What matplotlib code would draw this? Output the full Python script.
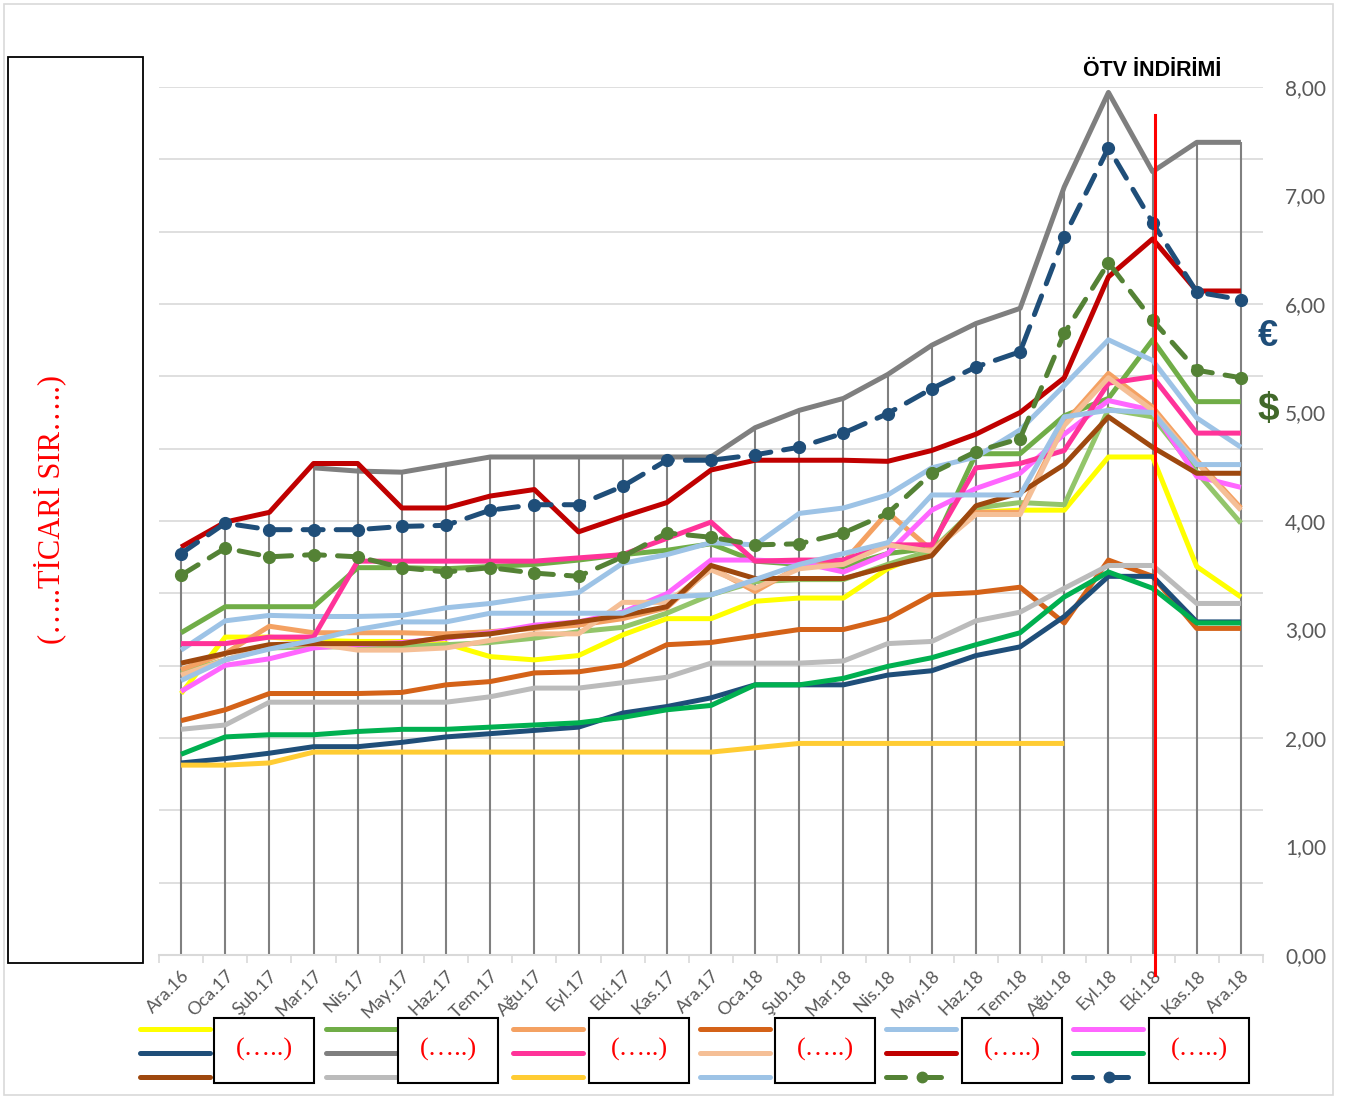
import numpy as np
import matplotlib
matplotlib.use("Agg")
import matplotlib.pyplot as plt
from matplotlib.lines import Line2D
from matplotlib.patches import Rectangle

plt.rcParams['font.family'] = ['Lato', 'DejaVu Sans']

nan = np.nan
months = ["Ara.16", "Oca.17", "Şub.17", "Mar.17", "Nis.17", "May.17", "Haz.17",
          "Tem.17", "Ağu.17", "Eyl.17", "Eki.17", "Kas.17", "Ara.17", "Oca.18",
          "Şub.18", "Mar.18", "Nis.18", "May.18", "Haz.18", "Tem.18", "Ağu.18",
          "Eyl.18", "Eki.18", "Kas.18", "Ara.18"]

yellow = [2.41, 2.93, 2.93, 2.90, 2.89, 2.89, 2.87, 2.75, 2.72, 2.76, 2.95, 3.10, 3.10,
          3.26, 3.29, 3.29, 3.56, 3.73, 4.08, 4.10, 4.10, 4.59, 4.59, 3.58, 3.30]
green = [2.97, 3.21, 3.21, 3.21, 3.57, 3.57, 3.56, 3.58, 3.60, 3.64, 3.69, 3.73, 3.79,
         3.63, 3.60, 3.58, 3.70, 3.75, 4.62, 4.62, 4.97, 5.13, 5.67, 5.10, 5.10]
light_green = [2.60, 2.72, 2.83, 2.84, 2.84, 2.84, 2.86, 2.88, 2.92, 2.98, 3.02, 3.15, 3.32,
               3.44, 3.46, 3.46, 3.60, 3.73, 4.12, 4.17, 4.15, 5.03, 4.96, 4.45, 3.98]
orange = [2.63, 2.78, 3.03, 2.97, 2.97, 2.97, 2.96, 2.98, 3.01, 3.04, 3.10, 3.20, 3.57,
          3.35, 3.58, 3.62, 4.08, 3.73, 4.08, 4.08, 4.90, 5.36, 5.05, 4.56, 4.12]
dark_orange = [2.16, 2.26, 2.41, 2.41, 2.41, 2.42, 2.49, 2.52, 2.60, 2.61, 2.67, 2.86, 2.88,
               2.94, 3.00, 3.00, 3.10, 3.32, 3.34, 3.39, 3.06, 3.64, 3.49, 3.01, 3.01]
light_blue = [2.81, 3.08, 3.13, 3.12, 3.12, 3.13, 3.20, 3.24, 3.30, 3.34, 3.61, 3.69, 3.80,
              3.78, 4.07, 4.12, 4.24, 4.49, 4.59, 4.84, 5.25, 5.67, 5.48, 4.95, 4.68]
magenta = [2.43, 2.67, 2.73, 2.83, 2.86, 2.88, 2.92, 2.97, 3.04, 3.07, 3.16, 3.33, 3.64,
           3.64, 3.62, 3.53, 3.70, 4.10, 4.30, 4.44, 4.80, 5.11, 5.02, 4.41, 4.31]
dark_blue = [1.77, 1.81, 1.86, 1.92, 1.92, 1.96, 2.01, 2.04, 2.07, 2.10, 2.23, 2.29, 2.37,
             2.49, 2.49, 2.49, 2.58, 2.62, 2.76, 2.84, 3.12, 3.49, 3.49, 3.07, 3.07]
dark_gray = [nan, nan, nan, 4.49, 4.46, 4.45, 4.52, 4.59, 4.59, 4.59, 4.59, 4.59, 4.59,
             4.86, 5.02, 5.13, 5.35, 5.62, 5.82, 5.96, 7.08, 7.95, 7.22, 7.49, 7.49]
pink = [2.87, 2.87, 2.93, 2.93, 3.63, 3.63, 3.63, 3.63, 3.63, 3.66, 3.69, 3.84, 3.99,
        3.63, 3.64, 3.64, 3.78, 3.78, 4.49, 4.53, 4.65, 5.27, 5.33, 4.81, 4.81]
peach = [2.58, 2.72, 2.84, 2.87, 2.81, 2.81, 2.83, 2.90, 2.96, 2.96, 3.25, 3.25, 3.55,
         3.38, 3.56, 3.60, 3.78, 3.72, 4.06, 4.06, 4.88, 5.32, 5.02, 4.54, 4.10]
dark_red = [3.76, 3.99, 4.08, 4.53, 4.53, 4.12, 4.12, 4.23, 4.29, 3.90, 4.04, 4.17, 4.47,
            4.56, 4.56, 4.56, 4.55, 4.65, 4.80, 5.00, 5.32, 6.25, 6.60, 6.12, 6.12]
green2 = [1.85, 2.01, 2.03, 2.03, 2.06, 2.08, 2.08, 2.10, 2.12, 2.14, 2.19, 2.26, 2.30,
          2.49, 2.49, 2.55, 2.66, 2.74, 2.86, 2.97, 3.30, 3.53, 3.38, 3.06, 3.06]
brown = [2.69, 2.78, 2.86, 2.87, 2.87, 2.87, 2.93, 2.96, 3.02, 3.07, 3.13, 3.21, 3.59,
         3.47, 3.47, 3.47, 3.58, 3.68, 4.14, 4.26, 4.52, 4.96, 4.68, 4.44, 4.44]
light_gray = [2.08, 2.12, 2.33, 2.33, 2.33, 2.33, 2.33, 2.38, 2.46, 2.46, 2.51, 2.56, 2.69,
              2.69, 2.69, 2.71, 2.87, 2.89, 3.08, 3.16, 3.38, 3.59, 3.59, 3.24, 3.24]
gold = [1.75, 1.75, 1.77, 1.87, 1.87, 1.87, 1.87, 1.87, 1.87, 1.87, 1.87, 1.87, 1.87,
        1.91, 1.95, 1.95, 1.95, 1.95, 1.95, 1.95, 1.95, nan, nan, nan, nan]
light_blue2 = [2.53, 2.72, 2.82, 2.90, 3.00, 3.07, 3.07, 3.15, 3.15, 3.15, 3.15, 3.30, 3.32,
               3.46, 3.60, 3.70, 3.80, 4.24, 4.24, 4.24, 4.96, 5.02, 5.00, 4.52, 4.52]
eur = [3.70, 3.98, 3.92, 3.92, 3.92, 3.95, 3.96, 4.10, 4.15, 4.15, 4.32, 4.56, 4.56,
       4.61, 4.68, 4.81, 4.99, 5.22, 5.42, 5.56, 6.62, 7.44, 6.75, 6.11, 6.04]
usd = [3.50, 3.75, 3.67, 3.69, 3.67, 3.57, 3.53, 3.57, 3.52, 3.49, 3.67, 3.89, 3.85,
       3.78, 3.79, 3.89, 4.07, 4.44, 4.64, 4.76, 5.73, 6.38, 5.85, 5.39, 5.32]

yticks = [0, 1, 2, 3, 4, 5, 6, 7, 8]
ytick_labels = ["0,00", "1,00", "2,00", "3,00", "4,00", "5,00", "6,00", "7,00", "8,00"]

# (values, color, dashed, legend slot (col,row) or None)
series = [
    (yellow, "#FFFF00", False, (0, 0)),
    (green, "#70AD47", False, (1, 0)),
    (light_green, "#93C56A", False, None),
    (orange, "#F4A162", False, (2, 0)),
    (dark_orange, "#D46218", False, (3, 0)),
    (light_blue, "#9DC3E6", False, (4, 0)),
    (magenta, "#FF66FF", False, (5, 0)),
    (dark_blue, "#1F4E79", False, (0, 1)),
    (dark_gray, "#7F7F7F", False, (1, 1)),
    (pink, "#FF3399", False, (2, 1)),
    (peach, "#F5BF96", False, (3, 1)),
    (dark_red, "#C00000", False, (4, 1)),
    (green2, "#00B050", False, (5, 1)),
    (brown, "#9E480E", False, (0, 2)),
    (light_gray, "#BBBBBB", False, (1, 2)),
    (gold, "#FFCC33", False, (2, 2)),
    (light_blue2, "#9DC3E6", False, (3, 2)),
    (usd, "#548235", True, (4, 2)),
    (eur, "#1F4E79", True, (5, 2)),
]

W, H = 1345, 1097
fig = plt.figure(figsize=(W / 100, H / 100), dpi=100)


def fx(x):
    return x / W


def fy(y):
    return 1 - y / H


ax = fig.add_axes([fx(159), fy(955), fx(1263) - fx(159), fy(87) - fy(955)])
ax.set_xlim(-0.5, 24.5)
ax.set_ylim(0, 8)

x = np.arange(len(months))

for k in range(1, 13):
    ax.axhline(k * 8 / 12, color="#D9D9D9", lw=1.2, zorder=0)

allv = np.array([s[0] for s in series], dtype=float)
tops = np.nanmax(allv, axis=0)
ax.vlines(x, 0, tops, color="#808080", lw=1.5, zorder=1)

LW = 3.6
for vals, c, dashed, slot in series:
    if dashed:
        ax.plot(x, vals, color=c, lw=LW, linestyle=(0, (4, 2.6)), dash_capstyle="round",
                marker="o", markersize=8.5, zorder=3)
    else:
        ax.plot(x, vals, color=c, lw=LW, solid_capstyle="butt", solid_joinstyle="round",
                zorder=2)

# red vertical marker line
ax.plot([22.05, 22.05], [-0.18, 7.74], color="#FF0000", lw=2.2, clip_on=False, zorder=5)

for sp in ["left", "right", "top"]:
    ax.spines[sp].set_visible(False)
ax.spines["bottom"].set_color("#D9D9D9")
ax.spines["bottom"].set_linewidth(1.5)

ax.set_xticks(x)
ax.set_xticklabels(months, rotation=45, ha="right", rotation_mode="anchor",
                   fontsize=13, color="#595959")
ax.set_xticks(np.arange(-0.5, 25, 1), minor=True)
ax.tick_params(axis="x", which="major", length=0, pad=9)
ax.tick_params(axis="x", which="minor", length=6, color="#D9D9D9", width=1.2)

ax.yaxis.tick_right()
ax.set_yticks(yticks)
ax.set_yticklabels(ytick_labels, fontsize=15, color="#595959")
ax.tick_params(axis="y", length=0, pad=16)

# annotations
fig.text(fx(1152), fy(70), "ÖTV İNDİRİMİ", fontsize=15.5, fontweight="bold",
         family=["Liberation Sans", "DejaVu Sans"], ha="center", va="center", color="black")
fig.text(fx(1268), fy(337), "€", fontsize=26, fontweight="bold", color="#1F4E79",
         ha="center", va="center", family=["Liberation Sans", "DejaVu Sans"])
fig.text(fx(1268), fy(410), "$", fontsize=28, fontweight="bold", color="#41682A",
         ha="center", va="center", family=["Liberation Sans", "DejaVu Sans"])

# outer chart border
fig.add_artist(Rectangle((fx(4), fy(1095)), fx(1333) - fx(4), fy(4) - fy(1095),
                         transform=fig.transFigure, fill=False, ec="#D9D9D9", lw=1.2))

# left covering box
fig.add_artist(Rectangle((fx(8), fy(963)), fx(143) - fx(8), fy(57) - fy(963),
                         transform=fig.transFigure, fill=True, fc="white", ec="black", lw=1.3,
                         zorder=10))
fig.text(fx(50), fy(510), "(…..TİCARİ SIR…..)", rotation=90, color="red", fontsize=22,
         family=["Liberation Serif", "DejaVu Serif"], ha="center", va="center", zorder=11)

# legend
col_x = [140, 326, 513, 700, 886, 1073]
row_y = [1029, 1053, 1077]
for vals, c, dashed, slot in series:
    if slot is None:
        continue
    cx, ry = slot
    x0 = col_x[cx]
    y = fy(row_y[ry])
    if dashed:
        fig.add_artist(Line2D([fx(x0), fx(x0 + 19)], [y, y], transform=fig.transFigure,
                              color=c, lw=LW, solid_capstyle="round"))
        fig.add_artist(Line2D([fx(x0 + 36), fx(x0 + 55)], [y, y], transform=fig.transFigure,
                              color=c, lw=LW, solid_capstyle="round"))
        fig.add_artist(Line2D([fx(x0 + 36)], [y], transform=fig.transFigure,
                              color=c, marker="o", markersize=7.5, lw=0))
    else:
        fig.add_artist(Line2D([fx(x0), fx(x0 + 70)], [y, y], transform=fig.transFigure,
                              color=c, lw=LW, solid_capstyle="round"))

box_x = [214, 398, 589, 775, 962, 1149]
for bx in box_x:
    fig.add_artist(Rectangle((fx(bx), fy(1083)), fx(bx + 100) - fx(bx), fy(1018) - fy(1083),
                             transform=fig.transFigure, fill=True, fc="white", ec="black",
                             lw=1.5, zorder=10))
    fig.text(fx(bx + 50), fy(1049), "(…..)", color="red", fontsize=19,
             family=["Liberation Serif", "DejaVu Serif"], ha="center", va="center", zorder=11)

fig.savefig("out.png", dpi=100)
